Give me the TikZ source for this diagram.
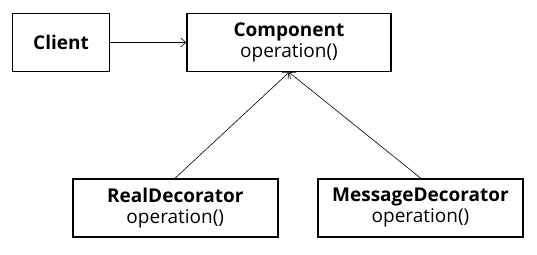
\documentclass[tikz,border=0pt]{standalone}
\usepackage{fontspec}
\setmainfont{Open Sans}
\usetikzlibrary{arrows.meta}

\begin{document}
\begin{tikzpicture}[x=1pt,y=-1pt,>={Straight Barb[length=5pt,width=9pt]},
  box/.style={draw,line width=1.6pt,align=center,inner sep=0pt,font=\fontsize{19}{21}\selectfont}]
  \useasboundingbox (0,0) rectangle (537,254);
  \node[box,minimum width=97pt,minimum height=58pt] (C) at (61,42.5) {\bfseries Client};
  \node[box,minimum width=204pt,minimum height=58pt] (Comp) at (289,42.5) {\textbf{Component}\\operation()};
  \node[box,minimum width=205pt,minimum height=58pt] (R) at (175.3,207.8) {\textbf{RealDecorator}\\operation()};
  \node[box,minimum width=205pt,minimum height=58pt] (M) at (420.5,207.8) {\textbf{MessageDecorator}\\operation()};
  \draw[->,line width=0.6pt] (C)--(Comp);
  \draw[->,line width=0.6pt] (R.north)--(Comp.south);
  \draw[->,line width=0.6pt] (M.north)--(Comp.south);
\end{tikzpicture}
\end{document}
